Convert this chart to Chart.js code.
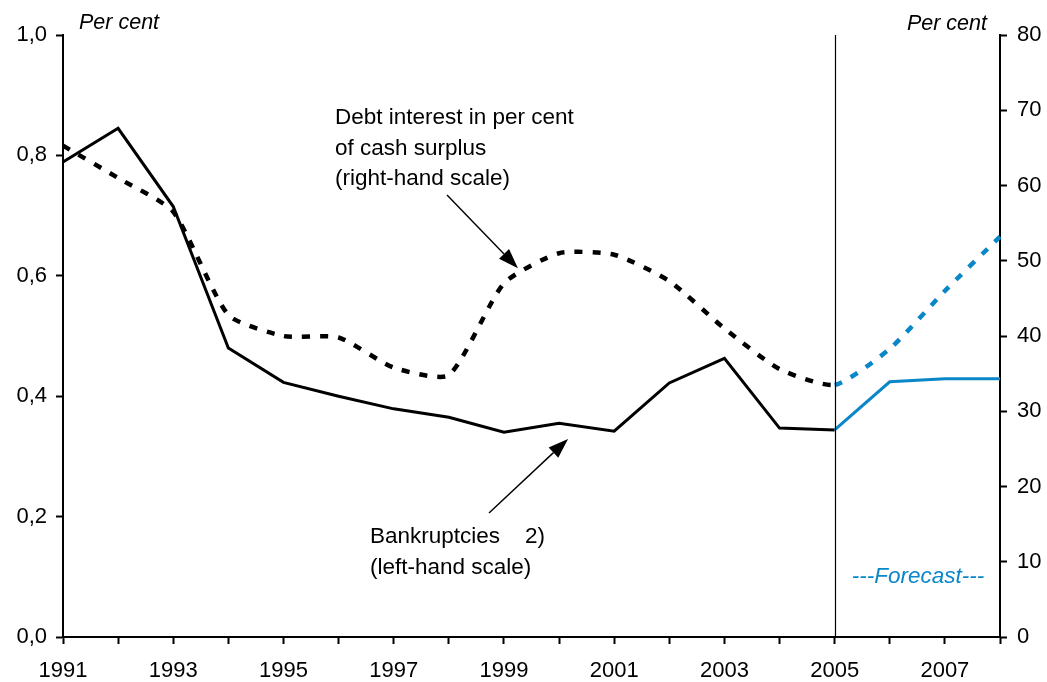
<!DOCTYPE html>
<html>
<head>
<meta charset="utf-8">
<script src="https://cdn.jsdelivr.net/npm/chart.js@4/dist/chart.umd.min.js"></script>
<style>
  html, body { margin: 0; padding: 0; background: #fff; }
  #wrap { width: 1047px; height: 682px; position: relative; }
</style>
</head>
<body>
<div id="wrap"><canvas id="c" width="1047" height="682"></canvas></div>
<script>
const years = ['1991','1992','1993','1994','1995','1996','1997','1998','1999','2000','2001','2002','2003','2004','2005','2006','2007','2008'];
const bankruptcies = [0.789, 0.845, 0.715, 0.480, 0.423, 0.400, 0.379, 0.365, 0.340, 0.355, 0.342, 0.422, 0.463, 0.347, 0.344, 0.424, 0.429, 0.429];
const debtInterest = [65.3, 61.0, 56.5, 42.8, 40.0, 39.8, 35.8, 34.8, 47.0, 51.0, 50.8, 47.3, 41.0, 35.6, 33.5, 38.3, 46.0, 53.2];
const forecastStart = '2005';
const leftTicks = [0, 0.2, 0.4, 0.6, 0.8, 1.0];
const rightTicks = [0, 10, 20, 30, 40, 50, 60, 70, 80];

const BLUE = '#0a87c9';
const FONT = "'Liberation Sans', Arial, sans-serif";
const fIdx = years.indexOf(forecastStart);

const segColor = ctx => ctx.p0DataIndex >= fIdx ? BLUE : '#000';

const overlay = {
  id: 'overlay',
  afterDatasetsDraw(chart) {
    const c = chart.ctx;
    const xs = chart.scales.x, yl = chart.scales.yL, yr = chart.scales.yR;
    const area = chart.chartArea;
    c.save();
    // vertical forecast line
    const xv = Math.round(xs.getPixelForValue(fIdx)) + 0.5;
    c.strokeStyle = '#000'; c.lineWidth = 1.2;
    c.beginPath(); c.moveTo(xv, area.top); c.lineTo(xv, area.bottom); c.stroke();

    c.fillStyle = '#000';
    c.font = 'italic 21.5px ' + FONT;
    c.textBaseline = 'middle';
    c.textAlign = 'left';
    c.fillText('Per cent', 79, 23);
    c.textAlign = 'right';
    c.fillText('Per cent', 987, 24);

    c.font = '22.5px ' + FONT;
    c.textAlign = 'left';
    c.fillText('Debt interest in per cent', 335, 118);
    c.fillText('of cash surplus', 335, 149);
    c.fillText('(right-hand scale)', 335, 179);
    c.fillText('Bankruptcies    2)', 370, 537);
    c.fillText('(left-hand scale)', 370, 568);

    function arrow(x1, y1, x2, y2) {
      c.strokeStyle = '#000'; c.fillStyle = '#000'; c.lineWidth = 1.4;
      const a = Math.atan2(y2 - y1, x2 - x1);
      const L = 20, W = 7;
      const bx = x2 - L * Math.cos(a), by = y2 - L * Math.sin(a);
      c.beginPath(); c.moveTo(x1, y1); c.lineTo(bx, by); c.stroke();
      c.beginPath();
      c.moveTo(x2, y2);
      c.lineTo(bx + W * Math.sin(a), by - W * Math.cos(a));
      c.lineTo(bx - W * Math.sin(a), by + W * Math.cos(a));
      c.closePath(); c.fill();
    }
    arrow(447, 195, xs.getPixelForValue(8) + 14, yr.getPixelForValue(49.0));
    arrow(489, 513, xs.getPixelForValue(9) + 9, yl.getPixelForValue(0.329));

    c.fillStyle = BLUE;
    c.font = 'italic 22.5px ' + FONT;
    c.textAlign = 'center';
    c.fillText('---Forecast---', 918, 577);
    c.restore();
  }
};

new Chart(document.getElementById('c'), {
  type: 'line',
  data: {
    labels: years,
    datasets: [
      {
        label: 'Bankruptcies 2) (left-hand scale)',
        data: bankruptcies,
        yAxisID: 'yL',
        borderColor: '#000',
        borderWidth: 3,
        pointRadius: 0,
        tension: 0,
        segment: { borderColor: segColor }
      },
      {
        label: 'Debt interest in per cent of cash surplus (right-hand scale)',
        data: debtInterest,
        yAxisID: 'yR',
        borderColor: '#000',
        borderWidth: 4.5,
        borderDash: [8, 10],
        pointRadius: 0,
        tension: 0.2,
        segment: { borderColor: segColor }
      }
    ]
  },
  options: {
    responsive: false,
    animation: false,
    layout: { padding: { top: 35, left: 0, right: 0, bottom: 0 } },
    plugins: { legend: { display: false }, tooltip: { enabled: false } },
    scales: {
      x: {
        type: 'category',
        offset: false,
        afterFit(s) { s.height = 45; },
        border: { display: true, color: '#000', width: 2 },
        grid: { drawOnChartArea: false, drawTicks: true, tickLength: 7, tickWidth: 2, tickColor: '#000' },
        ticks: {
          autoSkip: false, maxRotation: 0, padding: 14, color: '#000',
          font: { family: FONT, size: 22 },
          callback(v, i) { return (parseInt(years[i]) % 2 === 1) ? years[i] : ''; }
        }
      },
      yL: {
        position: 'left',
        min: 0, max: 1,
        afterFit(s) { s.width = 63; },
        afterBuildTicks(s) { s.ticks = leftTicks.map(v => ({ value: v })); },
        border: { display: true, color: '#000', width: 2 },
        grid: { drawOnChartArea: false, tickLength: 7, tickWidth: 2, tickColor: '#000' },
        ticks: {
          padding: 9, color: '#000',
          font: { family: FONT, size: 22 },
          callback(v) { return v.toFixed(1).replace('.', ','); }
        }
      },
      yR: {
        position: 'right',
        min: 0, max: 80,
        afterFit(s) { s.width = 47; },
        afterBuildTicks(s) { s.ticks = rightTicks.map(v => ({ value: v })); },
        border: { display: true, color: '#000', width: 2 },
        grid: { drawOnChartArea: false, tickLength: 7, tickWidth: 2, tickColor: '#000' },
        ticks: {
          padding: 10, color: '#000',
          font: { family: FONT, size: 22 },
          callback(v) { return String(v); }
        }
      }
    }
  },
  plugins: [overlay]
});
</script>
</body>
</html>
